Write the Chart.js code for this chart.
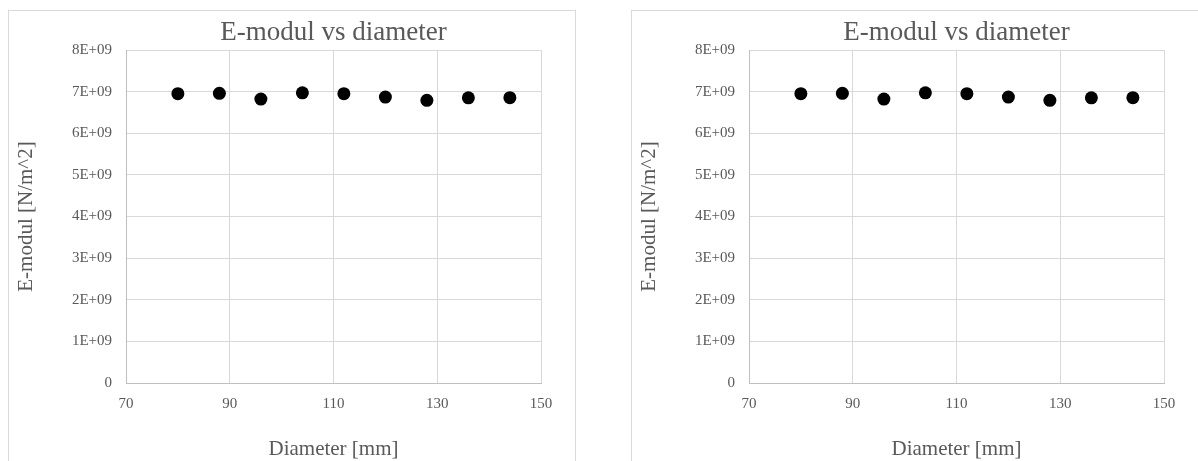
<!DOCTYPE html>
<html>
<head>
<meta charset="utf-8">
<script src="https://cdn.jsdelivr.net/npm/chart.js@4"></script>
<style>
  body { margin: 0; background: #fff; overflow: hidden; width: 1198px; height: 461px; position: relative; }
  .boks { position: absolute; top: 10px; width: 566px; height: 470px; border: 1px solid #d9d9d9; background: #fff; }
  .boks canvas { display: block; }
</style>
</head>
<body>
<div class="boks" style="left: 8px;"><canvas id="graf1" width="566" height="470"></canvas></div>
<div class="boks" style="left: 631px;"><canvas id="graf2" width="566" height="470"></canvas></div>
<script>
const diameter = [80, 88, 96, 104, 112, 120, 128, 136, 144];
const eModul = [6.95e9, 6.96e9, 6.82e9, 6.97e9, 6.95e9, 6.87e9, 6.79e9, 6.85e9, 6.855e9];
const tittel = 'E-modul vs diameter';
const xTittel = 'Diameter [mm]';
const yTittel = 'E-modul [N/m^2]';

const grå = '#595959';
const font = 'Liberation Serif, Times New Roman, serif';

function lagGraf(id) {
    const punkter = diameter.map((d, i) => ({ x: d, y: eModul[i] }));

    return new Chart(document.getElementById(id), {
        type: 'scatter',
        data: {
            datasets: [{
                data: punkter,
                backgroundColor: '#000',
                pointRadius: 6.5,
                pointBorderWidth: 0,
                pointHoverRadius: 6.5
            }]
        },
        options: {
            responsive: false,
            animation: false,
            events: [],
            layout: { padding: { top: 0, left: 0, right: 34, bottom: 21.5 } },
            plugins: {
                legend: { display: false },
                tooltip: { enabled: false },
                title: {
                    display: true,
                    text: tittel,
                    fullSize: false,
                    color: grå,
                    font: { family: font, size: 27, weight: 'normal', lineHeight: 1 },
                    padding: { top: 8, bottom: 4 }
                }
            },
            scales: {
                x: {
                    type: 'linear',
                    min: 70,
                    max: 150,
                    ticks: {
                        stepSize: 20,
                        padding: 12,
                        color: grå,
                        font: { family: font, size: 15 }
                    },
                    grid: { color: '#d9d9d9', lineWidth: 1, drawTicks: false },
                    border: { color: '#bfbfbf', width: 1 },
                    title: {
                        display: true,
                        text: xTittel,
                        color: grå,
                        font: { family: font, size: 21, lineHeight: 1 },
                        padding: { top: 13.5, bottom: 0 }
                    }
                },
                y: {
                    type: 'linear',
                    min: 0,
                    max: 8e9,
                    ticks: {
                        stepSize: 1e9,
                        padding: 14,
                        color: grå,
                        font: { family: font, size: 15 },
                        callback: (v) => v === 0 ? '0' : (v / 1e9) + 'E+09'
                    },
                    grid: { color: '#d9d9d9', lineWidth: 1, drawTicks: false },
                    border: { color: '#bfbfbf', width: 1 },
                    title: {
                        display: true,
                        text: yTittel,
                        color: grå,
                        font: { family: font, size: 21, lineHeight: 1 },
                        padding: { top: 7, bottom: 0 }
                    },
                    afterFit: (skala) => { skala.width = 117; }
                }
            }
        }
    });
}

lagGraf('graf1');
lagGraf('graf2');
</script>
</body>
</html>
